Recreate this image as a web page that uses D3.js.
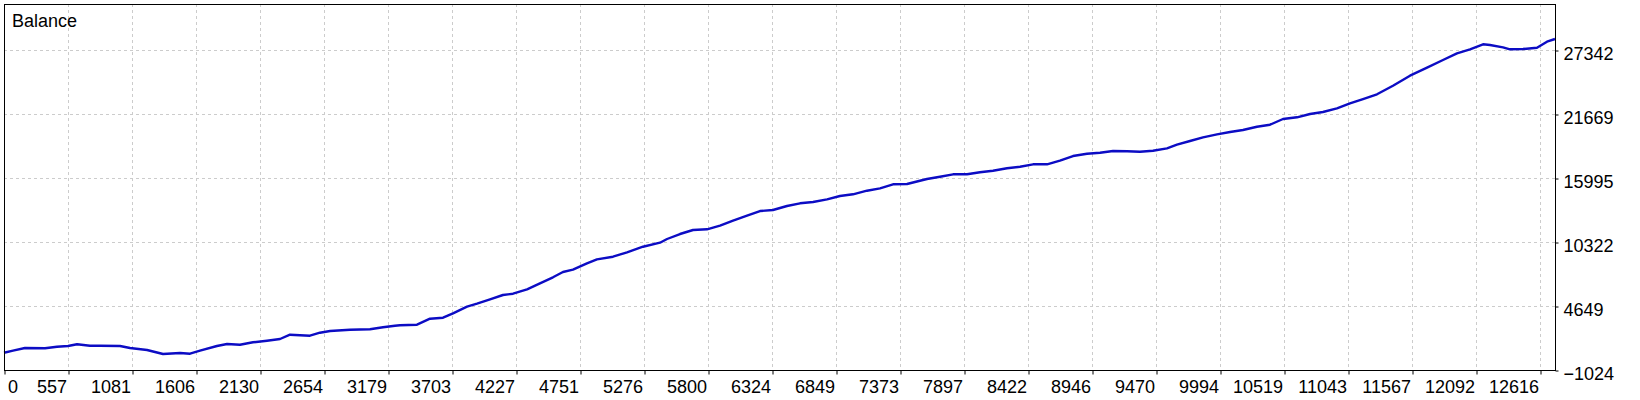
<!DOCTYPE html>
<html lang="en">
<head>
    <meta charset="UTF-8">
    <title>Balance</title>
    <script src="https://d3js.org/d3.v7.min.js"></script>
    <style>
        body {
            margin: 0;
            background: #ffffff;
        }
        .axis-label {
            font-family: "Liberation Sans Narrow", "Liberation Sans", sans-serif;
            font-size: 18px;
            fill: #000;
        }
        .grid line {
            stroke: #cccccc;
            stroke-width: 1px;
            stroke-dasharray: 3,3;
        }
    </style>
</head>
<body>
    <div id="chart"></div>

    <script>
        // x axis labels (trade numbers) and y axis levels
        const xLabels = ["0", "557", "1081", "1606", "2130", "2654", "3179", "3703", "4227", "4751",
            "5276", "5800", "6324", "6849", "7373", "7897", "8422", "8946", "9470", "9994",
            "10519", "11043", "11567", "12092", "12616"];
        const yLevels = [-1024, 4649, 10322, 15995, 21669, 27342];

        // balance curve
        const trades = [0, 74, 172, 337, 435, 526, 600, 706, 788, 953, 1035, 1175, 1306, 1446, 1528, 1610,
            1749, 1832, 1938, 2045, 2160, 2267, 2349, 2513, 2595, 2678, 2842, 3006, 3113, 3211, 3252, 3392,
            3499, 3606, 3688, 3803, 3885, 3992, 4098, 4181, 4296, 4402, 4509, 4591, 4673, 4788, 4870, 5002,
            5117, 5248, 5388, 5446, 5552, 5659, 5774, 5881, 5988, 6103, 6209, 6316, 6431, 6538, 6645, 6760,
            6866, 6973, 7088, 7195, 7302, 7417, 7523, 7581, 7688, 7795, 7910, 8016, 8123, 8238, 8345, 8452,
            8567, 8673, 8780, 8895, 9002, 9109, 9224, 9330, 9437, 9552, 9634, 9741, 9848, 9963, 10070, 10176,
            10291, 10398, 10505, 10620, 10727, 10833, 10948, 11055, 11162, 11277, 11408, 11548, 11688, 11819,
            11934, 12041, 12148, 12205, 12312, 12369, 12476, 12591, 12673, 12739];
        const balance = [509, 687, 926, 899, 1041, 1103, 1254, 1130, 1130, 1103, 926, 749, 394, 483, 421, 687,
            1103, 1281, 1219, 1431, 1573, 1724, 2105, 2016, 2282, 2433, 2548, 2584, 2761, 2903, 2938, 2991,
            3523, 3612, 4002, 4587, 4853, 5243, 5624, 5739, 6129, 6661, 7193, 7663, 7867, 8434, 8788, 9019,
            9409, 9905, 10260, 10588, 11031, 11386, 11448, 11767, 12210, 12653, 13070, 13158, 13513, 13752, 13868, 14107,
            14399, 14550, 14869, 15082, 15436, 15463, 15755, 15906, 16110, 16323, 16323, 16500, 16642, 16855, 16996, 17209,
            17209, 17528, 17945, 18149, 18237, 18388, 18361, 18326, 18415, 18627, 18947, 19275, 19603, 19868, 20072, 20250,
            20542, 20720, 21225, 21375, 21668, 21845, 22173, 22616, 22997, 23414, 24176, 25063, 25772, 26454,
            27048, 27403, 27846, 27784, 27580, 27403, 27429, 27544, 28077, 28316];

        const width = 1640;
        const height = 400;
        const plotL = 4, plotR = 1555, plotT = 4, plotB = 370;

        const svg = d3.select("#chart")
            .append("svg")
            .attr("width", width)
            .attr("height", height);

        svg.append("rect")
            .attr("width", width)
            .attr("height", height)
            .attr("fill", "white");

        const x = d3.scaleLinear()
            .domain([0, d3.max(trades)])
            .range([plotL, plotR]);

        // label positions sit on evenly spaced grid columns
        const xTick = d3.scalePoint()
            .domain(xLabels)
            .range([plotL, 1540]);

        const y = d3.scaleLinear()
            .domain([yLevels[0], yLevels[yLevels.length - 1]])
            .range([plotB, 50]);

        // grid
        const grid = svg.append("g").attr("class", "grid");
        grid.selectAll(".vg")
            .data(xLabels.slice(1))
            .join("line")
            .attr("x1", d => xTick(d) + 0.5)
            .attr("x2", d => xTick(d) + 0.5)
            .attr("y1", plotT)
            .attr("y2", plotB);
        grid.selectAll(".hg")
            .data(yLevels.slice(1))
            .join("line")
            .attr("x1", plotL)
            .attr("x2", plotR)
            .attr("y1", d => Math.round(y(d)) + 0.5)
            .attr("y2", d => Math.round(y(d)) + 0.5);

        // balance line
        const pts = trades.map((t, i) => [t, balance[i]]);
        svg.append("path")
            .datum(pts)
            .attr("fill", "none")
            .attr("stroke", "#0c0cc4")
            .attr("stroke-width", 2.4)
            .attr("stroke-linejoin", "round")
            .attr("d", d3.line().x(d => x(d[0])).y(d => y(d[1])));

        // frame
        svg.append("rect")
            .attr("x", plotL + 0.5)
            .attr("y", plotT + 0.5)
            .attr("width", plotR - plotL)
            .attr("height", plotB - plotT)
            .attr("fill", "none")
            .attr("stroke", "#000")
            .attr("stroke-width", 1);

        // bottom axis
        const xAxis = svg.append("g")
            .attr("transform", `translate(0.5,${plotB + 0.5})`)
            .call(d3.axisBottom(xTick).tickSize(4).tickSizeOuter(0));
        xAxis.attr("font-family", null).attr("font-size", null);
        xAxis.select(".domain").remove();
        xAxis.selectAll(".tick line").attr("stroke", "#000");
        xAxis.selectAll(".tick text")
            .attr("class", "axis-label")
            .attr("y", 22)
            .attr("dy", 0)
            .attr("x", (d, i) => i === 0 ? 3 : -2)
            .attr("text-anchor", (d, i) => i === 0 ? "start" : "end");

        // right axis
        const yAxis = svg.append("g")
            .attr("transform", `translate(${plotR + 0.5},0.5)`)
            .call(d3.axisRight(y).tickValues(yLevels).tickSize(3).tickSizeOuter(0).tickFormat(d3.format("d")));
        yAxis.attr("font-family", null).attr("font-size", null);
        yAxis.select(".domain").remove();
        yAxis.selectAll(".tick line").attr("stroke", "#000");
        yAxis.selectAll(".tick text")
            .attr("class", "axis-label")
            .attr("x", 8)
            .attr("dy", 9);

        svg.append("text")
            .attr("x", 12)
            .attr("y", 27)
            .attr("font-family", "Liberation Sans, sans-serif")
            .attr("font-size", 18)
            .attr("fill", "#000")
            .text("Balance");
    </script>
</body>
</html>
